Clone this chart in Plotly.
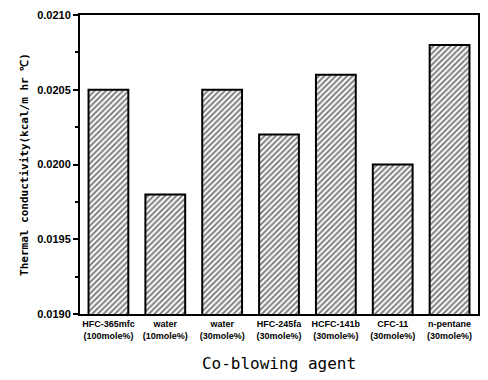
import plotly.graph_objects as go

agents = [
    "HFC-365mfc<br>(100mole%)",
    "water<br>(10mole%)",
    "water<br>(30mole%)",
    "HFC-245fa<br>(30mole%)",
    "HCFC-141b<br>(30mole%)",
    "CFC-11<br>(30mole%)",
    "n-pentane<br>(30mole%)",
]
conductivity = [0.0205, 0.0198, 0.0205, 0.0202, 0.0206, 0.0200, 0.0208]
y_ticks = [0.0190, 0.0195, 0.0200, 0.0205, 0.0210]

fig = go.Figure(
    go.Bar(
        x=agents,
        y=conductivity,
        width=0.7,
        marker=dict(
            color="white",
            line=dict(color="black", width=2),
            pattern=dict(shape="/", size=4, solidity=0.5,
                         fgcolor="black", bgcolor="white"),
        ),
    )
)

fig.update_layout(
    width=488,
    height=380,
    margin=dict(l=80, r=8, t=15, b=66),
    paper_bgcolor="white",
    plot_bgcolor="white",
    showlegend=False,
    font=dict(family="Liberation Sans", color="black"),
    bargap=0.3,
)

fig.update_xaxes(
    showline=True, linecolor="black", linewidth=2, mirror=True,
    ticks="", tickfont=dict(size=9, family="Liberation Sans", weight="bold"),
    title=dict(text="Co-blowing agent",
               font=dict(size=16, family="DejaVu Sans Mono"), standoff=18),
)

fig.update_yaxes(
    range=[0.0190, 0.0210],
    tickvals=y_ticks,
    ticktext=[f"{v:.4f}" for v in y_ticks],
    showline=True, linecolor="black", linewidth=2, mirror=True,
    ticks="outside", ticklen=5, tickwidth=1.5, tickcolor="black",
    minor=dict(ticks="outside", ticklen=3, dtick=0.00025, tickcolor="black"),
    showgrid=False, zeroline=False,
    tickfont=dict(size=11, family="Liberation Sans", weight="bold"),
    title=dict(text="Thermal conductivity(kcal/m hr ℃)",
               font=dict(size=11, family="DejaVu Sans Mono", weight="bold"),
               standoff=6),
)

fig.write_html("out.html")
